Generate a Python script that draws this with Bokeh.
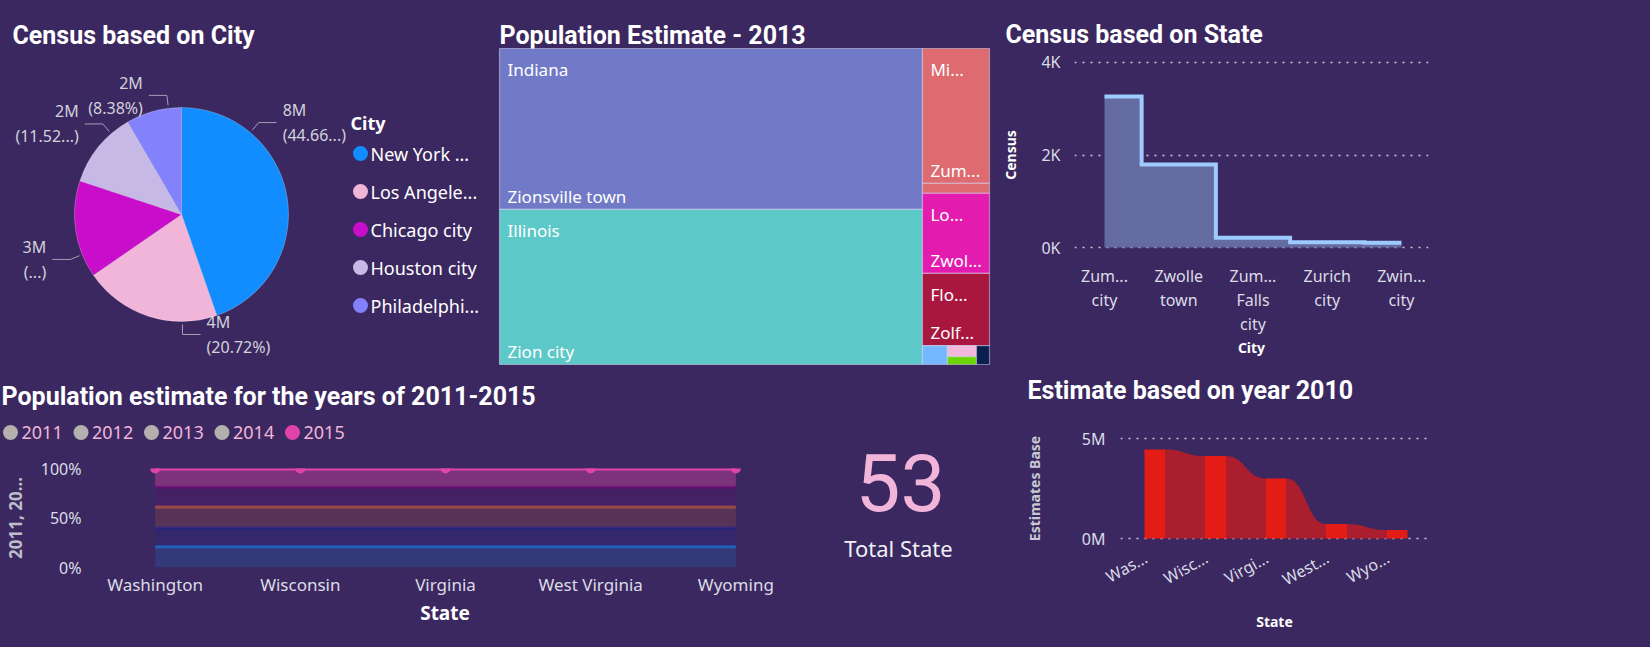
import numpy as np
from bokeh.plotting import figure
from bokeh.layouts import row, column
from bokeh.models import Range1d, FixedTicker
from bokeh.core.properties import value
from bokeh.embed import file_html
from bokeh.resources import INLINE

BG = "#3B2860"
TF = "Roboto"
F = "Noto Sans"
WHITE = "#FFFFFF"
LABEL = "#DCDCE6"
GRID = "#C8C8D8"

# ---------------- data ----------------
pie_cities = ["New York ...", "Los Angele...", "Chicago city", "Houston city", "Philadelphi..."]
pie_census_m = [8.168, 3.790, 2.690, 2.107, 1.533]
pie_colors = ["#118DFF", "#F2B5DA", "#C80ECB", "#C6B9E6", "#8381FB"]
pie_pct_keep = [6, None, 1, 6, None]          # characters kept before Power BI's "..."
pie_label_angle = [50, -89.5, -158, 131, 97]   # label anchor angles (deg), after collision avoidance

tm_states = ["Indiana", "Illinois", "Minnesota", "Louisiana", "Florida", "Kansas", "Iowa", "Michigan", "Ohio"]
tm_state_labels = ["Indiana", "Illinois", "Mi...", "Lo...", "Flo...", "", "", "", ""]
tm_cities = [["Zionsville town"], ["Zion city"], ["Zumbrota city", "Zumbro Falls city"], ["Zwolle town"],
             ["Zolfo Springs city"], ["Zurich city"], ["Zwingle city"], ["Zeeland city"], ["Zanesville city"]]
tm_city_labels = [["Zionsville town"], ["Zion city"], ["Zum...", ""], ["Zwol..."], ["Zolf..."], [""], [""], [""], [""]]
tm_values = [[24.6], [23.7], [3.27, 0.24], [1.94], [1.75], [0.171], [0.115], [0.083], [0.089]]
tm_colors = ["#717AC6", "#5DC8C8", "#DD6B6F", "#E31CAF", "#A9173F", "#74B9FF", "#F2B8DC", "#6CD400", "#0C1E4E"]
TM_TREE = ("h", [("v", [0, 1]), ("v", [2, 3, 4, ("h", [5, ("v", [6, 7]), 8])])])

census_cities = ["Zum...\ncity", "Zwolle\ntown", "Zum...\nFalls\ncity", "Zurich\ncity", "Zwin...\ncity"]
census_values = [3265, 1795, 212, 112, 104]
census_ticks = [0, 2000, 4000]
census_tick_labels = ["0K", "2K", "4K"]

line_states = ["Washington", "Wisconsin", "Virginia", "West Virginia", "Wyoming"]
years = ["2011", "2012", "2013", "2014", "2015"]
pop_2011 = [21, 21, 21, 21, 21]
pop_2012 = [19, 19, 19, 19, 19]
pop_2013 = [21, 21, 21, 21, 21]
pop_2014 = [20, 20, 20, 20, 20]
pop_2015 = [19, 19, 19, 19, 19]
year_colors = ["#118DFF", "#12239E", "#E66C37", "#6B007B", "#E044A7"]
year_selected = [False, False, False, False, True]
pct_ticks = [0, 0.5, 1.0]
pct_tick_labels = ["0%", "50%", "100%"]

total_states = 53
card_label = "Total State"

est_states = ["Was...", "Wisc...", "Virgi...", "West...", "Wyo..."]
est_values = [4.45e6, 4.12e6, 3.0e6, 0.72e6, 0.42e6]
est_ticks = [0, 5e6]
est_tick_labels = ["0M", "5M"]


# ---------------- helpers ----------------
def base(w, h, xr, yr, **kw):
    p = figure(width=w, height=h, x_range=xr, y_range=yr, output_backend="svg",
               toolbar_location=None, **kw)
    p.background_fill_color = None
    p.border_fill_color = None
    p.outline_line_color = None
    return p


def plain(w, h, x0, x1, y0, y1):
    # canvas in reference-pixel coordinates (y downward)
    p = base(w, h, Range1d(x0, x1), Range1d(y1, y0), x_axis_type=None, y_axis_type=None)
    p.min_border_left = p.min_border_right = p.min_border_top = p.min_border_bottom = 0
    return p


def title_text(p, x, y, txt):
    p.text(x=[x], y=[y], text=[txt], text_font=value(TF), text_font_style="bold",
           text_font_size="25px", text_color=WHITE, text_baseline="alphabetic", text_align="left")


def chart(w, h, panel_x, panel_y, frame, xr, yr):
    fx0, fx1, fy0, fy1 = frame
    p = base(w, h, Range1d(*xr), Range1d(*yr))
    p.min_border_left = fx0 - panel_x
    p.min_border_right = panel_x + w - fx1
    p.min_border_top = fy0 - panel_y
    p.min_border_bottom = panel_y + h - fy1
    return p


def style_axes(p, label_size="16px"):
    for ax in p.axis:
        ax.axis_line_color = None
        ax.major_tick_line_color = None
        ax.minor_tick_line_color = None
        ax.major_tick_out = 0
        ax.major_tick_in = 0
        ax.major_label_text_font = F
        ax.major_label_text_color = LABEL
        ax.major_label_text_font_size = label_size
        ax.axis_label_text_font = F
        ax.axis_label_text_font_style = "bold"
        ax.axis_label_text_color = WHITE
        ax.axis_label_text_font_size = "14px"


def dotted_ygrid(p):
    p.xgrid.visible = False
    p.ygrid.grid_line_dash = "2 6"
    p.ygrid.grid_line_color = GRID
    p.ygrid.grid_line_width = 1.5


# ---------------- pie ----------------
p1 = plain(490, 366, 0, 490, 0, 366)
title_text(p1, 12, 35, "Census based on City")
CX, CY, R = 181, 214, 107
tot = sum(pie_census_m)
fr = np.array(pie_census_m) / tot
cum = np.concatenate([[0], np.cumsum(fr)])
st = np.pi / 2 - 2 * np.pi * cum[:-1]
en = np.pi / 2 - 2 * np.pi * cum[1:]
n = len(pie_cities)
p1.wedge(x=[CX] * n, y=[CY] * n, radius=R, start_angle=st, end_angle=en, direction="clock",
         fill_color=pie_colors, line_color="#FFFFFF", line_alpha=0.25, line_width=1)

lx, ly, tx, ty1, ty2, vals_t, pct_t, aligns = [], [], [], [], [], [], [], []
for i in range(n):
    a = np.radians(pie_label_angle[i])
    c, s = np.cos(a), np.sin(a)
    d = 1 if c >= 0 else -1
    x1, y1 = CX + (R + 3) * c, CY - (R + 3) * s
    x2, y2 = CX + (R + 13) * c, CY - (R + 13) * s
    x3 = x2 + d * 18
    lx.append([x1, x2, x3]); ly.append([y1, y2, y2])
    tx.append(x3 + d * 6); ty1.append(y2 - 12.5); ty2.append(y2 + 12.5)
    aligns.append("left" if d > 0 else "right")
    vals_t.append(f"{round(pie_census_m[i])}M")
    ptxt = f"({fr[i] * 100:.2f}%)"
    if pie_pct_keep[i] is not None:
        ptxt = ptxt[:pie_pct_keep[i]] + "...)"
    pct_t.append(ptxt)
p1.multi_line(xs=lx, ys=ly, line_color="#A29EB4", line_width=1)
for yy, tt in ((ty1, vals_t), (ty2, pct_t)):
    p1.text(x=tx, y=yy, text=tt, text_align=aligns, text_baseline="middle",
            text_font=value(F), text_font_size="16px", text_color="#D2D2DC")

p1.text(x=[350], y=[122], text=["City"], text_font=value(F), text_font_style="bold",
        text_font_size="18px", text_color=WHITE, text_baseline="middle")
leg_y = [153 + 38 * i for i in range(n)]
p1.scatter(x=[360] * n, y=leg_y, size=15, fill_color=pie_colors, line_color=None)
p1.text(x=[370] * n, y=leg_y, text=pie_cities, text_font=value(F), text_font_size="18px",
        text_color=WHITE, text_baseline="middle")

# ---------------- treemap ----------------
p2 = plain(505, 366, 490, 995, 0, 366)
title_text(p2, 499, 35, "Population Estimate - 2013")


def node_sum(nd):
    if isinstance(nd, int):
        return sum(tm_values[nd])
    return sum(node_sum(k) for k in nd[1])


def lay(nd, x0, y0, x1, y1, out):
    if isinstance(nd, int):
        out[nd] = (x0, y0, x1, y1)
        return
    d, kids = nd
    t = sum(node_sum(k) for k in kids)
    pos = x0 if d == "h" else y0
    for k in kids:
        f = node_sum(k) / t
        if d == "h":
            nx = pos + (x1 - x0) * f
            lay(k, pos, y0, nx, y1, out)
            pos = nx
        else:
            ny = pos + (y1 - y0) * f
            lay(k, x0, pos, x1, ny, out)
            pos = ny


rects = {}
lay(TM_TREE, 499, 48, 989, 364, rects)
cl, cr, ct, cb, cc = [], [], [], [], []
plx, ply, plt = [], [], []
clx, cly, clt = [], [], []
for si in range(len(tm_states)):
    x0, y0, x1, y1 = rects[si]
    vs = tm_values[si]
    ys = y0
    for ci, v in enumerate(vs):
        ye = ys + (y1 - y0) * v / sum(vs)
        cl.append(x0); cr.append(x1); ct.append(ys); cb.append(ye); cc.append(tm_colors[si])
        if tm_city_labels[si][ci] and ye - ys > 25:
            clx.append(x0 + 8); cly.append(ye - 13); clt.append(tm_city_labels[si][ci])
        ys = ye
    if tm_state_labels[si] and y1 - y0 > 40:
        plx.append(x0 + 8); ply.append(y0 + 21); plt.append(tm_state_labels[si])
p2.quad(left=cl, right=cr, top=ct, bottom=cb, fill_color=cc, line_color="#E6E8FF",
        line_alpha=0.45, line_width=1.2)
p2.text(x=plx, y=ply, text=plt, text_font=value(F), text_font_size="17px", text_color=WHITE,
        text_baseline="middle")
p2.text(x=clx, y=cly, text=clt, text_font=value(F), text_font_size="17px", text_color=WHITE,
        text_baseline="middle")

# ---------------- census based on state ----------------
p3h = plain(655, 50, 995, 1650, 0, 50)
title_text(p3h, 1005, 34, "Census based on State")
p3 = chart(655, 316, 995, 50, (1074, 1428, 60, 249), (-0.404, 4.364), (-43.2, 4043.2))
cx = list(range(len(census_cities)))
p3.varea_step(x=cx, y1=[0] * len(cx), y2=census_values, step_mode="center", fill_color="#646BA0")
p3.step(x=cx, y=census_values, mode="center", line_color="#9DCBFF", line_width=4, line_join="miter")
style_axes(p3)
p3.xaxis.ticker = FixedTicker(ticks=cx)
p3.xaxis.major_label_overrides = {i: t for i, t in enumerate(census_cities)}
p3.xaxis.major_label_text_line_height = 1.1
p3.xaxis.major_label_standoff = 15
p3.xaxis.axis_label = "City"
p3.xaxis.axis_label_standoff = 0
p3.yaxis.ticker = FixedTicker(ticks=census_ticks)
p3.yaxis.major_label_overrides = dict(zip(census_ticks, census_tick_labels))
p3.yaxis.major_label_standoff = 14
p3.yaxis.axis_label = "Census"
p3.yaxis.axis_label_standoff = 18
dotted_ygrid(p3)

# ---------------- population estimate 2011-2015 ----------------
p4h = plain(790, 79, 0, 790, 366, 445)
title_text(p4h, 1, 396, "Population estimate for the years of 2011-2015")
ny = len(years)
leg_x = [10 + 70.5 * i for i in range(ny)]
leg_c = [year_colors[i] if year_selected[i] else "#B3B0AD" for i in range(ny)]
p4h.scatter(x=leg_x, y=[432] * ny, size=15, fill_color=leg_c, line_color=None)
p4h.text(x=[v + 11 for v in leg_x], y=[432] * ny, text=years, text_font=value(F),
         text_font_size="18px", text_color="#F2B5DA", text_baseline="middle")

p4 = chart(790, 202, 0, 445, (100, 785, 468, 567), (-0.349, 4.342), (0, 1))
series = np.array([pop_2011, pop_2012, pop_2013, pop_2014, pop_2015], dtype=float)
shares = series / series.sum(axis=0)
cums = np.cumsum(shares, axis=0)
lxs = list(range(len(line_states)))
prev = np.zeros(len(lxs))
for i in range(ny):
    sel = year_selected[i]
    p4.varea(x=lxs, y1=prev, y2=cums[i], fill_color=year_colors[i], fill_alpha=0.4 if sel else 0.17)
    prev = cums[i]
for i in range(ny):
    sel = year_selected[i]
    p4.line(x=lxs, y=cums[i], line_color=year_colors[i], line_alpha=1.0 if sel else 0.5,
            line_width=4 if sel else 3)
    if sel:
        p4.scatter(x=lxs, y=cums[i], size=10, fill_color=year_colors[i], line_color=None)
style_axes(p4, "17px")
p4.xaxis.ticker = FixedTicker(ticks=lxs)
p4.xaxis.major_label_overrides = {i: t for i, t in enumerate(line_states)}
p4.xaxis.major_label_standoff = 5
p4.xaxis.axis_label = "State"
p4.xaxis.axis_label_text_font_size = "19px"
p4.xaxis.axis_label_standoff = 1
p4.yaxis.ticker = FixedTicker(ticks=pct_ticks)
p4.yaxis.major_label_overrides = dict(zip(pct_ticks, pct_tick_labels))
p4.yaxis.major_label_text_font_size = "16px"
p4.yaxis.major_label_standoff = 23
p4.yaxis.axis_label = "2011, 20..."
p4.yaxis.axis_label_text_font_size = "17px"
p4.yaxis.axis_label_text_color = "#BEBEC8"
p4.yaxis.axis_label_standoff = 11
p4.grid.visible = False

# ---------------- card ----------------
p5 = plain(210, 281, 790, 1000, 366, 647)
p5.text(x=[900], y=[482], text=[str(total_states)], text_font=value("Roboto"), text_font_size="80px",
        text_color="#F2B5DA", text_align="center", text_baseline="middle")
p5.text(x=[898], y=[547], text=[card_label], text_font=value(F), text_font_size="22px",
        text_color="#F0F0F4", text_align="center", text_baseline="middle")

# ---------------- estimate based on year 2010 ----------------
p6h = plain(650, 49, 1000, 1650, 366, 415)
title_text(p6h, 1027, 390, "Estimate based on year 2010")
p6 = chart(650, 232, 1000, 415, (1120, 1428, 436, 540), (-0.570, 4.521), (-0.1e6, 5.1e6))
BW = 0.347
ex = list(range(len(est_states)))
rxs, rys = [], []
t = np.linspace(0, 1, 40)
for i in range(len(ex) - 1):
    x0, x1 = ex[i] + BW / 2, ex[i + 1] - BW / 2
    xm = (x0 + x1) / 2
    y0, y1 = est_values[i], est_values[i + 1]
    bx = (1 - t) ** 3 * x0 + 3 * (1 - t) ** 2 * t * xm + 3 * (1 - t) * t ** 2 * xm + t ** 3 * x1
    by = y0 * ((1 - t) ** 3 + 3 * (1 - t) ** 2 * t) + y1 * (3 * (1 - t) * t ** 2 + t ** 3)
    rxs.append(list(bx) + [x1, x0])
    rys.append(list(by) + [0, 0])
p6.patches(xs=rxs, ys=rys, fill_color="#AA1E2D", line_color=None)
p6.vbar(x=ex, top=est_values, width=BW, fill_color="#E41C16", line_color=None)
style_axes(p6)
# rotated labels end a little left of each bar centre, as Power BI draws them
EST_LABEL_SHIFT = 0.15
est_label_ticks = [x - EST_LABEL_SHIFT for x in ex]
p6.xaxis.ticker = FixedTicker(ticks=est_label_ticks)
p6.xaxis.major_label_overrides = {tk: s for tk, s in zip(est_label_ticks, est_states)}
p6.xaxis.major_label_orientation = 0.5
p6.xaxis.major_label_standoff = 16
p6.xaxis.axis_label = "State"
p6.xaxis.axis_label_standoff = 9
p6.yaxis.ticker = FixedTicker(ticks=est_ticks)
p6.yaxis.major_label_overrides = dict(zip(est_ticks, est_tick_labels))
p6.yaxis.major_label_standoff = 15
p6.yaxis.axis_label = "Estimates Base"
p6.yaxis.axis_label_text_color = "#C8C8D2"
p6.yaxis.axis_label_standoff = 35
dotted_ygrid(p6)

layout = column(
    row(column(p1), column(p2), column(column(p3h), column(p3))),
    row(column(column(p4h), column(p4)), column(p5), column(column(p6h), column(p6))),
)

html = file_html(layout, INLINE, title="Census dashboard")
css = f"<style>html, body {{ background-color: {BG} !important; }}</style>"
html = html.replace("</head>", css + "</head>", 1)
open("out.html", "w").write(html)
